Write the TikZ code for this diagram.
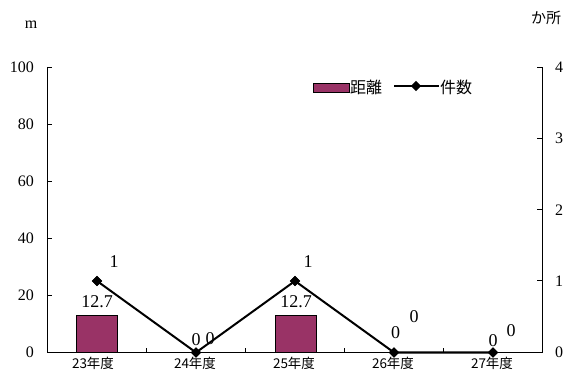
\documentclass[tikz,border=0pt]{standalone}
\usepackage{fontspec}
\setmainfont{Liberation Serif}
\newfontfamily\jpfont{Noto Sans CJK JP}
\usetikzlibrary{shapes.geometric}
\definecolor{barcol}{HTML}{993366}
\tikzset{
  num/.style={font=\fontsize{16}{16}\selectfont, inner sep=0pt},
  datnum/.style={font=\fontsize{18}{18}\selectfont, inner sep=0pt},
  cat/.style={font=\jpfont\fontsize{13.5}{13.5}\selectfont, inner sep=0pt},
  barbox/.style={draw=black, fill=barcol, line width=0.8pt},
  dot/.style={shape=diamond, fill=black, inner sep=0pt, minimum size=10.5pt},
  serie/.style={line width=2pt, black}
}
\begin{document}
\begin{tikzpicture}[x=1pt,y=-1pt]
\useasboundingbox (0,0) rectangle (565,379);

% axes
\draw[line width=0.9pt] (47,67) -- (47,352) -- (542,352) -- (542,67);
\foreach \v in {0,...,5} \draw[line width=0.9pt] (47,352-57*\v) -- ++(5,0);
\foreach \v in {0,...,4} \draw[line width=0.9pt] (542,352-71.25*\v) -- ++(-5,0);
\foreach \x in {146,245,344,443} \draw[line width=0.9pt] (\x,352) -- ++(0,-4);

% left axis
\node[num] (um) at (31,25) {m};
\node[num, anchor=east] (l0) at (34,352) {0};
\node[num, anchor=east] (l1) at (34,295) {20};
\node[num, anchor=east] (l2) at (34,238) {40};
\node[num, anchor=east] (l3) at (34,181) {60};
\node[num, anchor=east] (l4) at (34,124) {80};
\node[num, anchor=east] (l5) at (34,67) {100};

% right axis
\node[cat, font=\jpfont\fontsize{15}{15}\selectfont] (ur) at (546,18) {か所};
\node[num, anchor=west] (r0) at (555,352) {0};
\node[num, anchor=west] (r1) at (555,281) {1};
\node[num, anchor=west] (r2) at (555,210) {2};
\node[num, anchor=west] (r3) at (555,138) {3};
\node[num, anchor=west] (r4) at (555,67) {4};

% bars
\draw[barbox] (76.5,352) rectangle (117.5,315.8);
\draw[barbox] (275.5,352) rectangle (316.5,315.8);
\node[datnum] (b1) at (97,302) {12.7};
\node[datnum] (b2) at (196,340) {0};
\node[datnum] (b3) at (296,302) {12.7};
\node[datnum] (b4) at (395.5,333) {0};
\node[datnum] (b5) at (493,341) {0};

% line
\node[dot] (p1) at (97,281) {};
\node[dot] (p2) at (196,352.5) {};
\node[dot] (p3) at (295,281) {};
\node[dot] (p4) at (394,352.5) {};
\node[dot] (p5) at (493,352.5) {};
\draw[serie] (p1.center) -- (p2.center) -- (p3.center) -- (p4.center) -- (p5.center);
\foreach \p in {p1,p2,p3,p4,p5} \node[dot] at (\p) {};
\node[datnum] (n1) at (114,262) {1};
\node[datnum] (n2) at (210,338.5) {0};
\node[datnum] (n3) at (308,262) {1};
\node[datnum] (n4) at (414,316.5) {0};
\node[datnum] (n5) at (511,331) {0};

% categories
\node[cat] (c1) at (93,363) {23年度};
\node[cat] (c2) at (195,363) {24年度};
\node[cat] (c3) at (294,363) {25年度};
\node[cat] (c4) at (393,363) {26年度};
\node[cat] (c5) at (492,363) {27年度};

% legend
\node[barbox, minimum width=36pt, minimum height=9pt, inner sep=0pt] (legbar) at (331,87.5) {};
\node[cat, font=\jpfont\fontsize{16}{16}\selectfont, anchor=west] (legbartxt) at (350,87) {距離};
\coordinate (lega) at (394,86);
\coordinate (legb) at (439,86);
\draw[serie] (lega) -- (legb);
\node[dot] (legdot) at (416,86) {};
\node[cat, font=\jpfont\fontsize{16}{16}\selectfont, anchor=west] (leglinetxt) at (440,87) {件数};
\end{tikzpicture}
\end{document}
